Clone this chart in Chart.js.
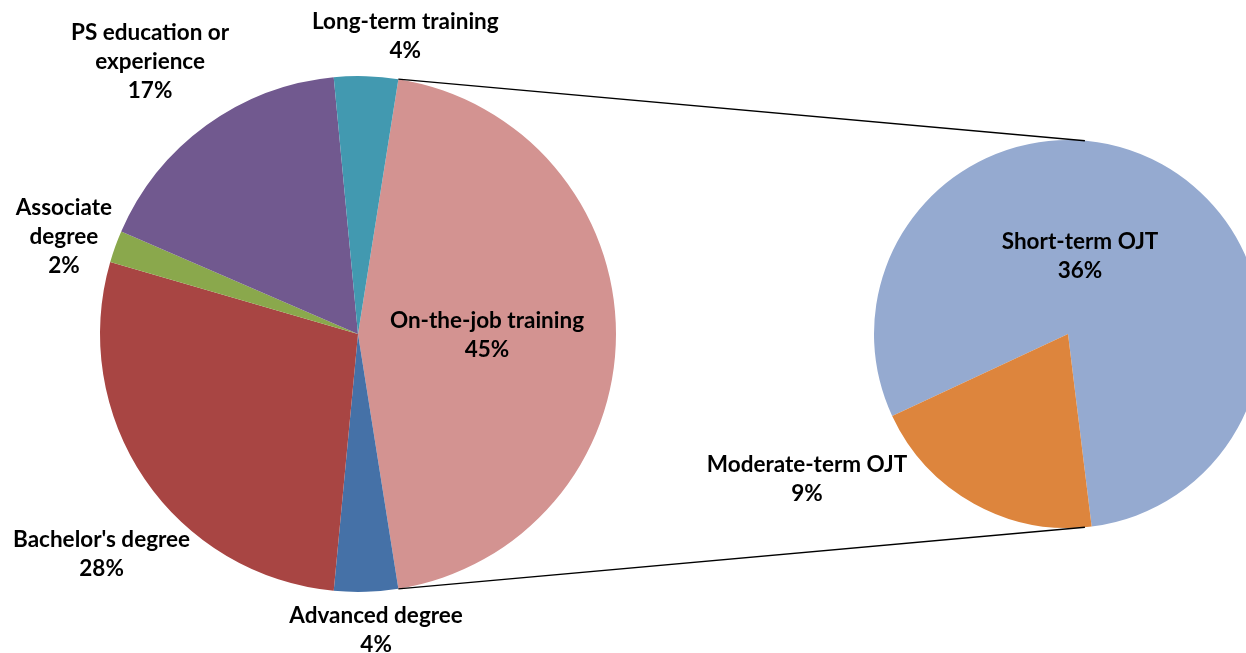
<!DOCTYPE html>
<html>
<head>
<meta charset="utf-8">
<script src="https://cdn.jsdelivr.net/npm/chart.js@4.4.0/dist/chart.umd.min.js"></script>
<style>
    html, body { margin: 0; padding: 0; background: #fff; }
    #wrap { position: relative; width: 1246px; height: 653px; overflow: hidden; }
    #wrap canvas { position: absolute; left: 0; top: 0; }
</style>
</head>
<body>
<div id="wrap">
    <canvas id="mainPie" width="1246" height="653"></canvas>
    <canvas id="subPie" width="1300" height="653"></canvas>
</div>
<script>
// Datos del grafico principal (orden en sentido horario)
const mainLabels = ["On-the-job training", "Advanced degree", "Bachelor's degree", "Associate\ndegree", "PS education or\nexperience", "Long-term training"];
const mainValues = [45, 4, 28, 2, 17, 4];
const mainColors = ['#D39391', '#4571A7', '#A84543', '#8AA84C', '#71598F', '#4299B0'];

// Datos del grafico secundario (desglose del on-the-job training)
const subLabels = ["Short-term OJT", "Moderate-term OJT"];
const subValues = [36, 9];
const subColors = ['#95AAD0', '#DD853D'];

// Colocacion de etiquetas: giro respecto al centro del sector (grados) y distancia (fraccion del radio)
const mainLabelShift = [0, -1.7, -6.4, -1.3, -1.3, 7.2];
const mainLabelDist = [0.5, 1.149, 1.309, 1.202, 1.33, 1.172];
const subLabelShift = [-20.3, 32];
const subLabelDist = [0.409, 1.538];

const FONT = 'bold 22.5px Lato';
const LINE_H = 29;

function etiquetasPlugin(shifts, dists) {
    return {
        id: 'etiquetas',
        afterDraw(chart) {
            const ctx = chart.ctx;
            const meta = chart.getDatasetMeta(0);
            const data = chart.data.datasets[0].data;
            const total = data.reduce((a, b) => a + b, 0);
            ctx.save();
            ctx.font = FONT;
            ctx.fillStyle = '#000';
            ctx.textAlign = 'center';
            ctx.textBaseline = 'alphabetic';
            meta.data.forEach((arc, i) => {
                const mid = (arc.startAngle + arc.endAngle) / 2 + shifts[i] * Math.PI / 180;
                const r = arc.outerRadius * dists[i];
                const cx = arc.x + Math.cos(mid) * r;
                const cy = arc.y + Math.sin(mid) * r;
                // el secundario muestra el porcentaje sobre el total general
                const pct = Math.round(data[i] / (chart.canvas.id === 'subPie' ? 100 : total) * 100);
                const lines = chart.data.labels[i].split('\n').concat([pct + '%']);
                lines.forEach((t, k) => {
                    ctx.fillText(t, cx, cy + (k - (lines.length - 1) / 2) * LINE_H + 8);
                });
            });
            ctx.restore();
        }
    };
}

const chartMain = new Chart(document.getElementById('mainPie'), {
    type: 'pie',
    data: {
        labels: mainLabels,
        datasets: [{ data: mainValues, backgroundColor: mainColors, borderWidth: 0 }]
    },
    options: {
        responsive: false,
        animation: false,
        rotation: 9,
        layout: { padding: { left: 100, right: 630, top: 76, bottom: 61 } },
        plugins: { legend: { display: false }, tooltip: { enabled: false } }
    },
    plugins: [etiquetasPlugin(mainLabelShift, mainLabelDist)]
});

// Lineas que unen los dos graficos
const conectores = {
    id: 'conectores',
    afterDraw(chart) {
        const ojt = chartMain.getDatasetMeta(0).data[0];
        const sub = chart.getDatasetMeta(0).data[0];
        const ctx = chart.ctx;
        const off = 5 * Math.PI / 180;
        const p1 = [ojt.x + Math.cos(ojt.startAngle) * ojt.outerRadius, ojt.y + Math.sin(ojt.startAngle) * ojt.outerRadius];
        const p2 = [ojt.x + Math.cos(ojt.endAngle) * ojt.outerRadius, ojt.y + Math.sin(ojt.endAngle) * ojt.outerRadius];
        const q1 = [sub.x + Math.cos(-Math.PI / 2 + off) * sub.outerRadius, sub.y + Math.sin(-Math.PI / 2 + off) * sub.outerRadius];
        const q2 = [sub.x + Math.cos(Math.PI / 2 - off) * sub.outerRadius, sub.y + Math.sin(Math.PI / 2 - off) * sub.outerRadius];
        ctx.save();
        ctx.strokeStyle = '#000';
        ctx.lineWidth = 1.3;
        ctx.beginPath();
        ctx.moveTo(p1[0], p1[1]);
        ctx.lineTo(q1[0], q1[1]);
        ctx.moveTo(p2[0], p2[1]);
        ctx.lineTo(q2[0], q2[1]);
        ctx.stroke();
        ctx.restore();
    }
};

const chartSub = new Chart(document.getElementById('subPie'), {
    type: 'pie',
    data: {
        labels: subLabels,
        datasets: [{ data: subValues, backgroundColor: subColors, borderWidth: 0 }]
    },
    options: {
        responsive: false,
        animation: false,
        rotation: 245,
        layout: { padding: { left: 874, right: 38, top: 140, bottom: 125 } },
        plugins: { legend: { display: false }, tooltip: { enabled: false } }
    },
    plugins: [conectores, etiquetasPlugin(subLabelShift, subLabelDist)]
});
</script>
</body>
</html>
